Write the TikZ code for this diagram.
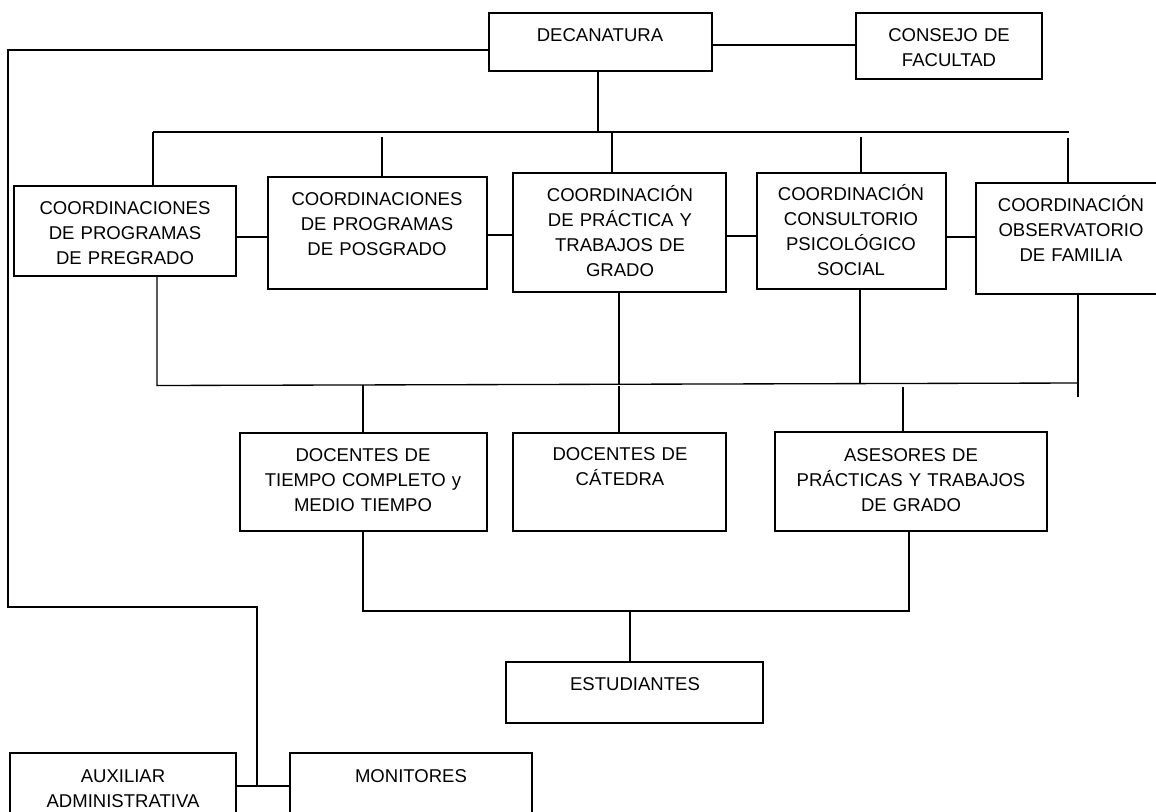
\documentclass[tikz,border=0pt]{standalone}
\usepackage{fontspec}
\setmainfont{Liberation Sans}
\usetikzlibrary{fit}
\begin{document}
\begin{tikzpicture}[x=0.75pt,y=-0.75pt,
  box/.style={draw, line width=1.6pt, rectangle, inner sep=0pt, outer sep=0pt},
  lbl/.style={anchor=base, align=center, text width=8cm, inner sep=0pt, font=\fontsize{13.9}{18.75}\selectfont},
  conn/.style={line width=1pt}]
\useasboundingbox (0,0) rectangle (1156,811);
\clip (0,0) rectangle (1156,811);
% boxes
\node[box, fit={(489,13) (712,71)}] (dec) {};
\node[box, fit={(856,13) (1042,79)}] (con) {};
\node[box, fit={(14,186) (236,276)}] (c1) {};
\node[box, fit={(268,177) (487,289)}] (c2) {};
\node[box, fit={(513,173) (726,292)}] (c3) {};
\node[box, fit={(757,173) (946,289)}] (c4) {};
\node[box, fit={(976,183) (1166,294)}] (c5) {};
\node[box, fit={(240,433) (487,531)}] (dtc) {};
\node[box, fit={(513,433) (726,531)}] (dca) {};
\node[box, fit={(775,432) (1047,531)}] (ase) {};
\node[box, fit={(506,662) (763,723)}] (est) {};
\node[box, fit={(10,753) (236,840)}] (aux) {};
\node[box, fit={(290,753) (532,840)}] (mon) {};
% texts
\node[lbl] (tdec) at (600,41.6) {DECANATURA};
\node[lbl] (tcon) at (949,41.6) {CONSEJO DE\\FACULTAD};
\node[lbl] (tc1) at (125,214.6) {COORDINACIONES\\DE PROGRAMAS\\DE PREGRADO};
\node[lbl] (tc2) at (377,205.6) {COORDINACIONES\\DE PROGRAMAS\\DE POSGRADO};
\node[lbl] (tc3) at (620,201.6) {COORDINACIÓN\\DE PRÁCTICA Y\\TRABAJOS DE\\GRADO};
\node[lbl] (tc4) at (851,200.6) {COORDINACIÓN\\CONSULTORIO\\PSICOLÓGICO\\SOCIAL};
\node[lbl] (tc5) at (1071,211.6) {COORDINACIÓN\\OBSERVATORIO\\DE FAMILIA};
\node[lbl] (tdtc) at (363,461.6) {DOCENTES DE\\TIEMPO COMPLETO y\\MEDIO TIEMPO};
\node[lbl] (tdca) at (620,460.6) {DOCENTES DE\\CÁTEDRA};
\node[lbl] (tase) at (911,461.6) {ASESORES DE\\PRÁCTICAS Y TRABAJOS\\DE GRADO};
\node[lbl] (test) at (635,690.6) {ESTUDIANTES};
\node[lbl] (taux) at (123,782.6) {AUXILIAR\\ADMINISTRATIVA};
\node[lbl] (tmon) at (411,782.6) {MONITORES};
% junction coordinates
\coordinate (la) at (8,50);
\coordinate (lb) at (8,607);
\coordinate (lc) at (257,607);
\coordinate (ld) at (257,786);
\coordinate (tb1) at (153,132);
\coordinate (tbd) at (598,132);
\coordinate (tb2) at (382,137);
\coordinate (tb3) at (612,132);
\coordinate (tb4) at (861,137);
\coordinate (tb5) at (1068,138);
\coordinate (tbe) at (1069,132);
\coordinate (lb1) at (157,385.5);
\coordinate (lb3) at (619,384);
\coordinate (lb4) at (860,384);
\coordinate (lb5) at (1078,383);
\coordinate (lb5e) at (1078,397);
\coordinate (ld1) at (363,384.5);
\coordinate (ld2) at (619,386);
\coordinate (ld3) at (903,387);
\coordinate (bb1) at (363,611);
\coordinate (bb2) at (909,611);
\coordinate (bbe) at (630,611);
% connectors
\draw[conn] (dec.east |- 0,45) -- (con.west |- 0,45);
\draw[conn] (dec.west |- la) -- (la) -- (lb) -- (lc) -- (ld);
\draw[conn] (aux.east |- ld) -- (mon.west |- ld);
\draw[conn] (dec.south -| tbd) -- (tbd);
\draw[conn] (tb1) -- (tbe);
\draw[conn] (tb1) -- (tb1 |- c1.north);
\draw[conn] (tb2) -- (tb2 |- c2.north);
\draw[conn] (tb3) -- (tb3 |- c3.north);
\draw[conn] (tb4) -- (tb4 |- c4.north);
\draw[conn] (tb5) -- (tb5 |- c5.north);
\draw[conn] (c1.east |- 0,237) -- (c2.west |- 0,237);
\draw[conn] (c2.east |- 0,235) -- (c3.west |- 0,235);
\draw[conn] (c3.east |- 0,236) -- (c4.west |- 0,236);
\draw[conn] (c4.east |- 0,237) -- (c5.west |- 0,237);
\draw[conn] (c1.south -| lb1) -- (lb1) -- (lb5);
\draw[conn] (c3.south -| lb3) -- (lb3);
\draw[conn] (c4.south -| lb4) -- (lb4);
\draw[conn] (c5.south -| lb5) -- (lb5e);
\draw[conn] (ld1) -- (ld1 |- dtc.north);
\draw[conn] (ld2) -- (ld2 |- dca.north);
\draw[conn] (ld3) -- (ld3 |- ase.north);
\draw[conn] (dtc.south -| bb1) -- (bb1) -- (bb2) -- (ase.south -| bb2);
\draw[conn] (bbe) -- (bbe |- est.north);
\end{tikzpicture}
\end{document}
